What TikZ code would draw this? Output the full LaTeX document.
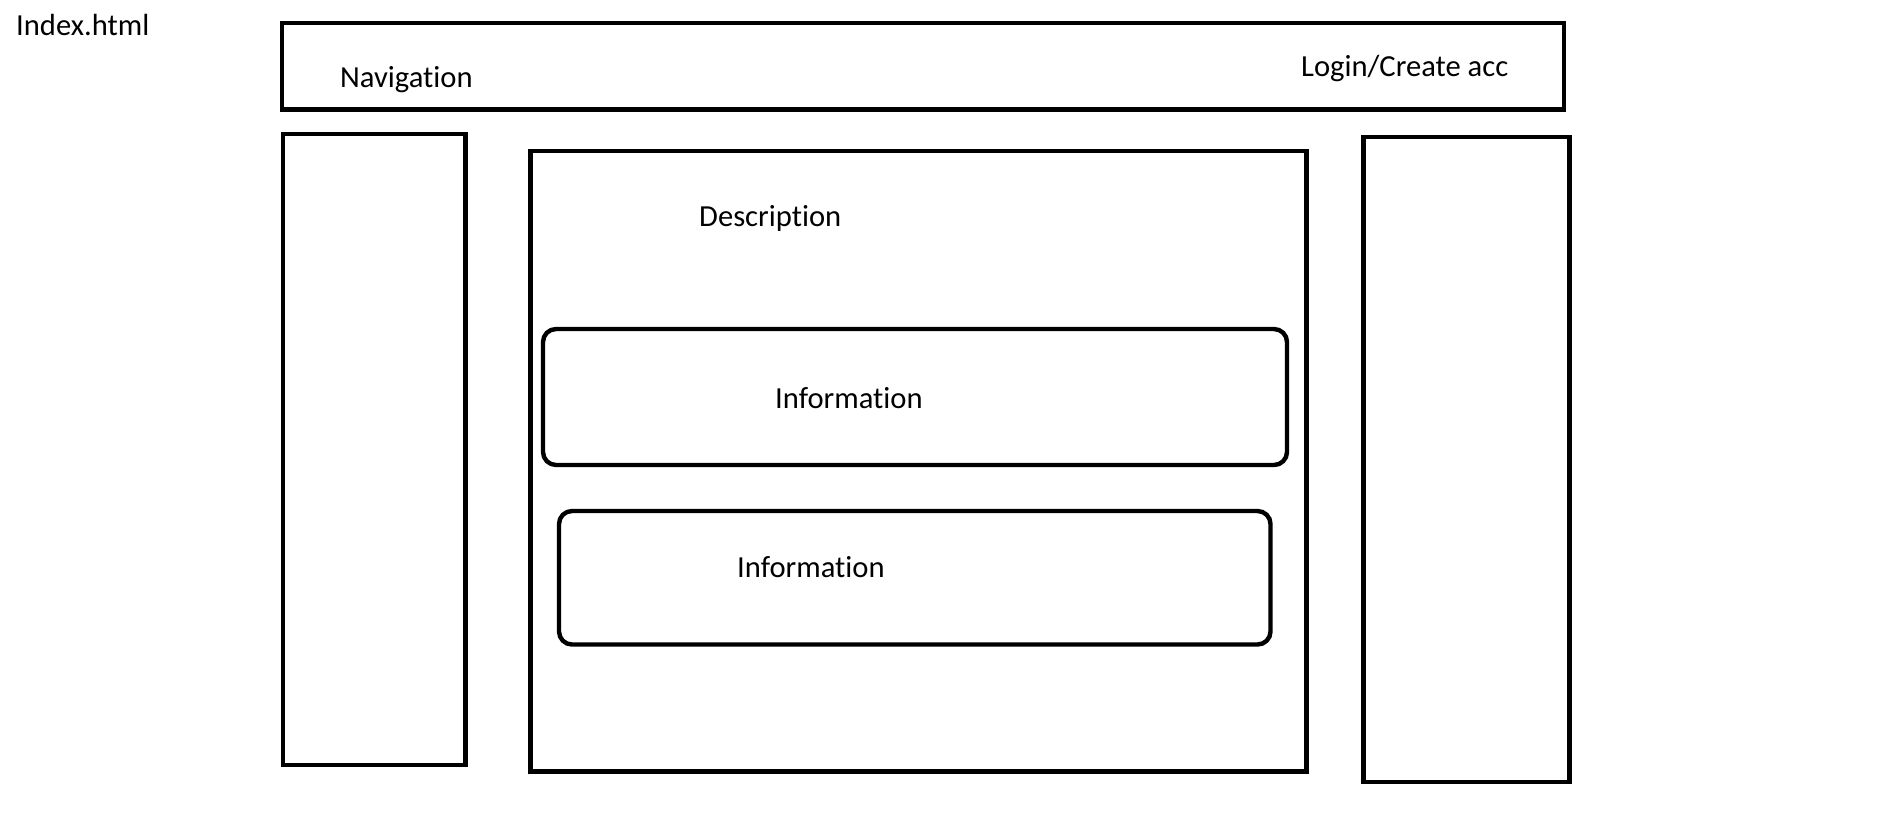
\documentclass[tikz,border=0pt]{standalone}
\usepackage{fontspec}
\setmainfont{Carlito}[Ligatures={NoCommon}]
\begin{document}
\begin{tikzpicture}[x=1pt,y=-1pt,
  box/.style={draw=black,line width=4.4pt,inner sep=0pt,outer sep=0pt,rectangle},
  roundbox/.style={box,rounded corners=13pt},
  lbl/.style={anchor=base west,inner sep=0pt,font=\fontsize{30.6}{36}\selectfont,text=black}]
\useasboundingbox[fill=white] (0,0) rectangle (1897,831);
% boxes
\node[box,minimum width=1282pt,minimum height=86.5pt] (top) at (923,66.25) {};
\node[box,minimum width=182.8pt,minimum height=631pt] (leftcol) at (374.1,449.5) {};
\node[box,minimum width=776pt,minimum height=620.5pt] (main) at (918.5,461.25) {};
\node[roundbox,minimum width=744pt,minimum height=136pt] (info1) at (915,397) {};
\node[roundbox,minimum width=711.5pt,minimum height=133.5pt] (info2) at (914.75,577.75) {};
\node[box,minimum width=206pt,minimum height=645pt] (rightcol) at (1466.5,459.5) {};
% labels
\node[lbl] (index) at (16,35) {Index.html};
\node[lbl] (nav) at (340,87) {Navigation};
\node[lbl] (login) at (1301,76) {Login/Create acc};
\node[lbl] (desc) at (699,226) {Description};
\node[lbl] (t1) at (775,408.3) {Information};
\node[lbl] (t2) at (737,577.7) {Information};
\end{tikzpicture}
\end{document}
